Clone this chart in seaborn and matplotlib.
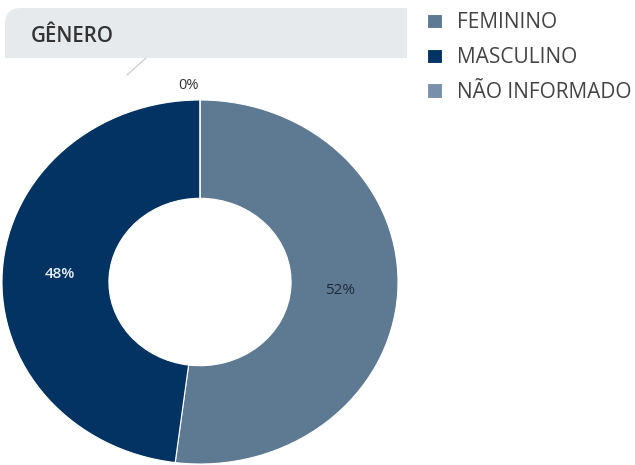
import numpy as np
import matplotlib
matplotlib.use("Agg")
import matplotlib.pyplot as plt
from matplotlib.patches import FancyBboxPatch, Rectangle
import seaborn as sns

# data
categorias = ["FEMININO", "MASCULINO", "NÃO INFORMADO"]
valores = [52, 48, 0]
cores = ["#5e7a92", "#033363", "#7890aa"]
cor_pct = ["#1e2a38", "#e8eef5", "#444444"]

sns.set_theme(style="white")
plt.rcParams['font.family'] = ['Open Sans', 'DejaVu Sans']

W, H = 635, 465
fig = plt.figure(figsize=(W / 100, H / 100), dpi=100)

# title box (only top-left corner rounded)
box = FancyBboxPatch((5 / W, 1 - 58 / H), 402 / W, 50 / H,
                     boxstyle="round,pad=0,rounding_size=0.025",
                     transform=fig.transFigure, facecolor="#e7eaed",
                     edgecolor="none", mutation_aspect=W / H)
fig.patches.append(box)
fig.patches.append(Rectangle((5 / W, 1 - 58 / H), 402 / W, 25 / H,
                             transform=fig.transFigure, facecolor="#e7eaed", edgecolor="none"))
fig.patches.append(Rectangle((30 / W, 1 - 58 / H), 377 / W, 50 / H,
                             transform=fig.transFigure, facecolor="#e7eaed", edgecolor="none"))
fig.lines.append(plt.Line2D([127 / W, 146 / W], [1 - 75 / H, 1 - 58 / H],
                            transform=fig.transFigure, color="#c8c8c8", lw=0.8))
fig.text(31 / W, 1 - 36 / H, "GÊNERO", fontsize=14.8, color="#333333",
         fontweight="semibold", va="center", ha="left")

# donut
ax = fig.add_axes([2 / W, 1 / H, 396 / W, 364 / H])
wedges, texts, autotexts = ax.pie(
    valores, colors=cores, startangle=90, counterclock=False,
    autopct=lambda p: f"{p:.0f}%", pctdistance=0.71,
    wedgeprops=dict(width=0.54, edgecolor="white", linewidth=0.8),
    textprops=dict(fontsize=11))
ax.set_aspect("auto")
ax.set_xlim(-1, 1)
ax.set_ylim(-1, 1)

for w, t, c, v in zip(wedges, autotexts, cor_pct, valores):
    t.set_color(c)
    if v == 0:
        ang = np.deg2rad((w.theta1 + w.theta2) / 2)
        t.set_position((1.08 * np.cos(ang) - 0.06, 1.08 * np.sin(ang)))
        t.set_color("#333333")
        t.set_fontsize(10.5)
    if c == "#e8eef5":
        t.set_fontweight("semibold")

leg = fig.legend(wedges, categorias, loc="upper left",
                 bbox_to_anchor=(417 / W, 1 - 2 / H), frameon=False,
                 fontsize=15, handlelength=0.68, handleheight=0.68,
                 handletextpad=0.72, labelspacing=0.66, borderpad=0)
for t in leg.get_texts():
    t.set_color("#444444")

fig.savefig("out.png", dpi=100)
